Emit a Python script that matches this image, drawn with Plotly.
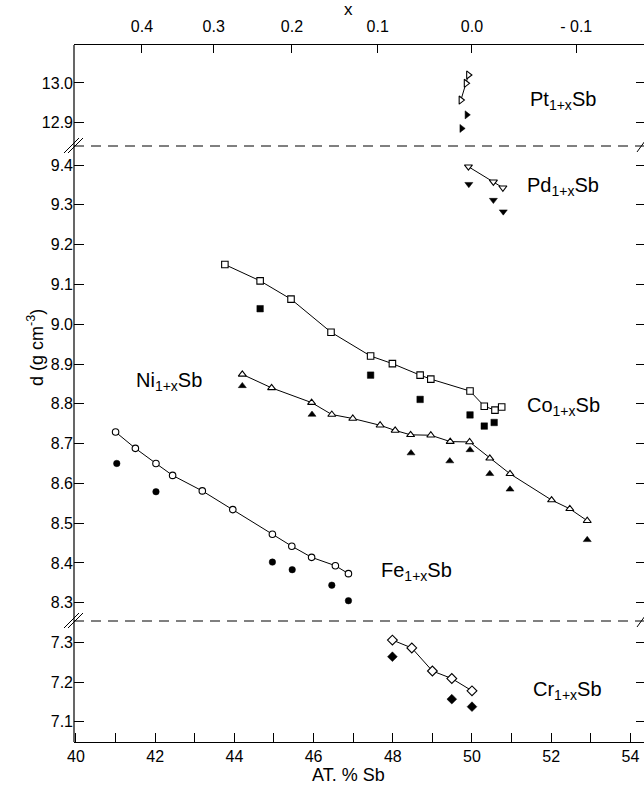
import plotly.graph_objects as go

# ---- data ----
co_open_x = [43.76, 44.65, 45.43, 46.44, 47.44, 47.99, 48.69, 48.96, 49.95, 50.31, 50.58, 50.75]
co_open_y = [9.150, 9.109, 9.063, 8.980, 8.920, 8.901, 8.872, 8.862, 8.832, 8.794, 8.784, 8.792]
co_fill_x = [44.65, 47.44, 48.69, 49.95, 50.31, 50.56]
co_fill_y = [9.039, 8.872, 8.811, 8.772, 8.744, 8.753]

ni_open_x = [44.20, 44.94, 45.95, 46.46, 46.99, 47.68, 48.06, 48.45, 48.96, 49.45, 49.94,
             50.45, 50.96, 52.01, 52.47, 52.91]
ni_open_y = [8.874, 8.840, 8.803, 8.773, 8.763, 8.746, 8.733, 8.722, 8.721, 8.705, 8.704,
             8.663, 8.624, 8.558, 8.536, 8.506]
ni_fill_x = [44.20, 45.96, 48.46, 49.44, 49.95, 50.45, 50.96, 52.91]
ni_fill_y = [8.845, 8.773, 8.676, 8.656, 8.684, 8.624, 8.585, 8.458]

fe_open_x = [41.00, 41.50, 42.02, 42.44, 43.19, 43.96, 44.96, 45.45, 45.95, 46.55, 46.88]
fe_open_y = [8.729, 8.688, 8.650, 8.620, 8.581, 8.534, 8.472, 8.442, 8.414, 8.393, 8.373]
fe_fill_x = [41.03, 42.02, 44.96, 45.46, 46.46, 46.88]
fe_fill_y = [8.650, 8.579, 8.402, 8.383, 8.344, 8.305]

pd_open_x = [49.91, 50.54, 50.78]
pd_open_y = [9.396, 9.358, 9.343]
pd_fill_x = [49.92, 50.54, 50.79]
pd_fill_y = [9.352, 9.312, 9.283]

pt_open_x = [49.91, 49.85, 49.72]
pt_open_y = [13.020, 12.999, 12.957]
pt_fill_x = [49.87, 49.74]
pt_fill_y = [12.920, 12.886]

cr_open_x = [47.99, 48.48, 49.00, 49.49, 50.00]
cr_open_y = [7.306, 7.286, 7.228, 7.209, 7.178]
cr_fill_x = [47.99, 49.49, 50.00]
cr_fill_y = [7.264, 7.157, 7.138]

top_x_vals = [0.4, 0.3, 0.2, 0.1, 0.0, -0.1]
top_x_text = ["0.4", "0.3", "0.2", "0.1", "0.0", "- 0.1"]
mid_ticks = [8.3, 8.4, 8.5, 8.6, 8.7, 8.8, 8.9, 9.0, 9.1, 9.2, 9.3, 9.4]
top_ticks = [12.9, 13.0]
low_ticks = [7.1, 7.2, 7.3]

FONT = "Liberation Sans"
W, H = 644, 787
L, R, T, B = 74, 0, 45, 45
PW, PH = W - L - R, H - T - B
brk_hi = 146   # pixel y of the upper break
brk_lo = 621   # pixel y of the lower break


def py2paper(py):
    return (H - B - py) / PH


def px2paper(px):
    return (px - L) / PW


d_hi = py2paper(brk_hi)
d_lo = py2paper(brk_lo)

fig = go.Figure()


def add_series(xo, yo, xf, yf, sym, yaxis, size=7):
    fig.add_trace(go.Scatter(
        x=xo, y=yo, mode="lines+markers", yaxis=yaxis,
        line=dict(color="black", width=1),
        marker=dict(symbol=sym, size=size, color="white", line=dict(color="black", width=1.1)),
        showlegend=False, hoverinfo="skip"))
    fig.add_trace(go.Scatter(
        x=xf, y=yf, mode="markers", yaxis=yaxis,
        marker=dict(symbol=sym, size=size, color="black", line=dict(color="black", width=0.5)),
        showlegend=False, hoverinfo="skip"))


add_series(pt_open_x, pt_open_y, pt_fill_x, pt_fill_y, "triangle-right", "y3")
add_series(pd_open_x, pd_open_y, pd_fill_x, pd_fill_y, "triangle-down", "y2")
add_series(co_open_x, co_open_y, co_fill_x, co_fill_y, "square", "y2", 6.5)
add_series(ni_open_x, ni_open_y, ni_fill_x, ni_fill_y, "triangle-up", "y2")
add_series(fe_open_x, fe_open_y, fe_fill_x, fe_fill_y, "circle", "y2", 6.5)
add_series(cr_open_x, cr_open_y, cr_fill_x, cr_fill_y, "diamond", "y", 7.5)

# invisible traces to activate the top axis and the right-hand tick axes
for xa, ya, yv in (("x2", "y3", 13.0), ("x", "y4", 7.2), ("x", "y5", 9.0), ("x", "y6", 13.0)):
    fig.add_trace(go.Scatter(x=[45], y=[yv], xaxis=xa, yaxis=ya, mode="markers",
                             marker=dict(opacity=0), showlegend=False, hoverinfo="skip"))

x_rng = [39.95, 40.0 + (W - 76) / 39.6]
tickfont = dict(family=FONT, size=16, color="black")
yax_common = dict(showgrid=False, zeroline=False, showline=False, ticks="inside",
                  ticklen=10, tickwidth=1.1, tickcolor="black",
                  tickfont=tickfont, anchor="x", tickformat=".1f")
yax_right = dict(showgrid=False, zeroline=False, showline=False, ticks="inside",
                 ticklen=8, tickwidth=1.1, tickcolor="black", showticklabels=False,
                 anchor="x", side="right")

lo_rng = [7.049, 7.354]
mid_rng = [8.254, 9.448]
hi_rng = [12.842, 13.095]

fig.update_layout(
    width=W, height=H, margin=dict(l=L, r=R, t=T, b=B),
    paper_bgcolor="white", plot_bgcolor="white",
    font=dict(family=FONT, size=16, color="black"),
    xaxis=dict(range=x_rng, showgrid=False, zeroline=False, showline=True,
               linecolor="black", linewidth=1.2, ticks="inside", ticklen=9,
               tickwidth=1.1, tickcolor="black", tick0=40, dtick=2,
               minor=dict(dtick=1, tick0=40, ticks="inside", ticklen=9,
                          tickwidth=1.1, tickcolor="black", showgrid=False),
               tickfont=tickfont, anchor="y"),
    xaxis2=dict(range=x_rng, overlaying="x", side="top", anchor="y3",
                showgrid=False, zeroline=False, showline=True, linecolor="black",
                linewidth=1.2, ticks="inside", ticklen=8, tickwidth=1.1,
                tickcolor="black", ticklabelstandoff=6,
                tickvals=[100.0 / (2 + v) for v in top_x_vals], ticktext=top_x_text,
                tickfont=tickfont),
    yaxis=dict(domain=[0, d_lo], range=lo_rng, tickvals=low_ticks, **yax_common),
    yaxis2=dict(domain=[d_lo, d_hi], range=mid_rng, tickvals=mid_ticks, **yax_common),
    yaxis3=dict(domain=[d_hi, 1], range=hi_rng, tickvals=top_ticks, **yax_common),
    yaxis4=dict(overlaying="y", range=lo_rng, tickvals=low_ticks, **yax_right),
    yaxis5=dict(overlaying="y2", range=mid_rng, tickvals=mid_ticks, **yax_right),
    yaxis6=dict(overlaying="y3", range=hi_rng, tickvals=top_ticks, **yax_right),
)

shapes = []
# left spine
shapes.append(dict(type="line", xref="paper", yref="paper", x0=0, x1=0, y0=0, y1=1,
                   line=dict(color="black", width=1.2)))
# dashed break lines
for yb in (d_hi, d_lo):
    shapes.append(dict(type="line", xref="paper", yref="paper", x0=0, x1=1, y0=yb, y1=yb,
                       line=dict(color="black", width=1, dash="10px,7px")))
# break marks on left spine ("//")
for pyb in (brk_hi, brk_lo):
    for off in (-2, 2):
        shapes.append(dict(type="line", xref="paper", yref="paper",
                           x0=px2paper(66 + off), y0=py2paper(pyb + 7),
                           x1=px2paper(81 + off), y1=py2paper(pyb - 8),
                           line=dict(color="black", width=1)))
    # single mark at the right edge
    shapes.append(dict(type="line", xref="paper", yref="paper",
                       x0=px2paper(637), y0=py2paper(pyb + 6),
                       x1=px2paper(645), y1=py2paper(pyb - 5),
                       line=dict(color="black", width=1)))
fig.update_layout(shapes=shapes)

lab_font = dict(family=FONT, size=20, color="black")
ann = [
    dict(x=52.3, y=12.957, xref="x", yref="y3", text="Pt<sub>1+x</sub>Sb"),
    dict(x=52.3, y=9.347, xref="x", yref="y2", text="Pd<sub>1+x</sub>Sb"),
    dict(x=52.3, y=8.794, xref="x", yref="y2", text="Co<sub>1+x</sub>Sb"),
    dict(x=42.35, y=8.857, xref="x", yref="y2", text="Ni<sub>1+x</sub>Sb"),
    dict(x=48.6, y=8.378, xref="x", yref="y2", text="Fe<sub>1+x</sub>Sb"),
    dict(x=52.4, y=7.180, xref="x", yref="y", text="Cr<sub>1+x</sub>Sb"),
]
for a in ann:
    a.update(showarrow=False, font=lab_font, xanchor="center", yanchor="middle")
ann.append(dict(x=px2paper(35), y=py2paper(348), xref="paper", yref="paper",
                text="d (g cm<sup>-3</sup>)", textangle=-90, showarrow=False,
                font=dict(family=FONT, size=18, color="black"),
                xanchor="center", yanchor="middle"))
ann.append(dict(x=px2paper(348), y=py2paper(775), xref="paper", yref="paper",
                text="AT. % Sb", showarrow=False,
                font=dict(family=FONT, size=18, color="black"),
                xanchor="center", yanchor="middle"))
ann.append(dict(x=px2paper(348), y=py2paper(10), xref="paper", yref="paper",
                text="x", showarrow=False,
                font=dict(family=FONT, size=17, color="black"),
                xanchor="center", yanchor="middle"))
fig.update_layout(annotations=ann)

fig.write_html(
    "out.html", config={"displayModeBar": False},
    post_script=("document.documentElement.style.overflow='hidden';"
                 "document.body.style.margin='0';document.body.style.overflow='hidden';"))
